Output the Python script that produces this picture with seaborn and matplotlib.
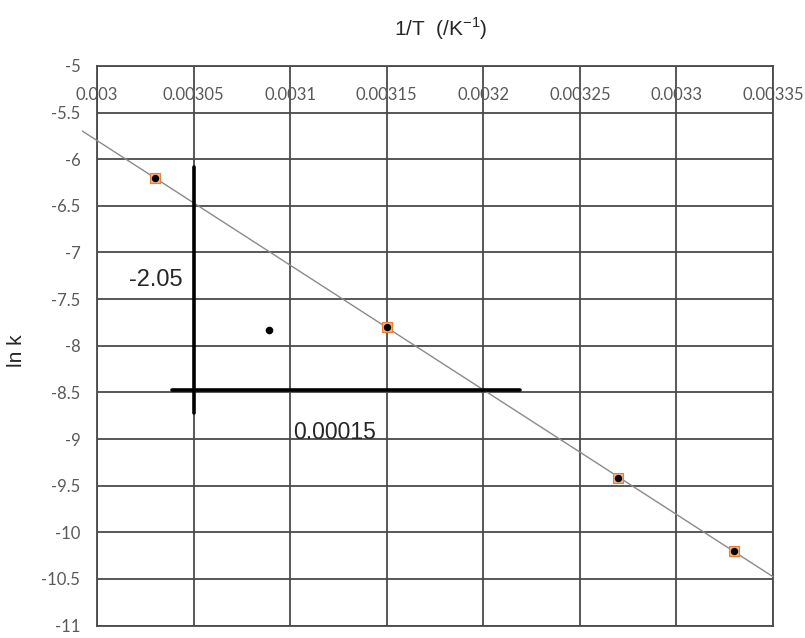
import numpy as np
import pandas as pd
import matplotlib
matplotlib.use("Agg")
import matplotlib.pyplot as plt
import seaborn as sns

# Data
inv_T = [0.00303, 0.00315, 0.00327, 0.00333]
ln_k = [-6.20, -7.80, -9.42, -10.20]
outlier_x = [0.003089]
outlier_y = [-7.83]

# trendline span (forecast a little past the first point)
trend_x = [0.0029924, 0.00335]

# slope triangle drawn on the chart
rise_x = [0.00305, 0.00305]
rise_y = [-6.08, -8.72]
run_x = [0.003039, 0.003219]
run_y = [-8.47, -8.47]
rise_label = "-2.05"
run_label = "0.00015"

x_ticks = [0.003, 0.00305, 0.0031, 0.00315, 0.0032, 0.00325, 0.0033, 0.00335]
x_tick_labels = ["0.003", "0.00305", "0.0031", "0.00315", "0.0032", "0.00325", "0.0033", "0.00335"]
y_ticks = [-5, -5.5, -6, -6.5, -7, -7.5, -8, -8.5, -9, -9.5, -10, -10.5, -11]
y_tick_labels = ["-5", "-5.5", "-6", "-6.5", "-7", "-7.5", "-8", "-8.5", "-9", "-9.5", "-10", "-10.5", "-11"]

sns.set_style("white")
plt.rcParams['font.family'] = ['Liberation Sans', 'DejaVu Sans']

df = pd.DataFrame({"inv_T": inv_T, "ln_k": ln_k})

fig = plt.figure(figsize=(8.05, 6.38), dpi=100)
ax = fig.add_axes([0.1205, 0.0195, 0.8397, 0.8771])

ax.set_xlim(0.003, 0.00335)
ax.set_ylim(-11, -5)

# grid
ax.set_xticks(x_ticks)
ax.set_yticks(y_ticks)
ax.grid(True, color="#4a4a4a", linewidth=1.3)
for s in ax.spines.values():
    s.set_color("#4a4a4a")
    s.set_linewidth(1.3)

# linear trendline (Excel style)
m, b = np.polyfit(inv_T, ln_k, 1)
tx = np.array(trend_x)
ax.plot(tx, m * tx + b, color="#8a8a8a", linewidth=1.0, clip_on=False, zorder=3)

# data points: orange square with black dot
sns.scatterplot(data=df, x="inv_T", y="ln_k", ax=ax, marker="s", s=60,
                color="#F4B183", edgecolor="#ED7D31", linewidth=0.8, zorder=4)
sns.scatterplot(data=df, x="inv_T", y="ln_k", ax=ax, marker="o", s=28,
                color="black", edgecolor="black", linewidth=0, zorder=5)
sns.scatterplot(x=outlier_x, y=outlier_y, ax=ax, marker="o", s=30,
                color="black", edgecolor="black", linewidth=0, zorder=5)

# slope triangle
ax.plot(rise_x, rise_y, color="black", linewidth=2.6, zorder=6)
ax.plot(run_x, run_y, color="black", linewidth=2.6, zorder=6)
ax.text(0.0030445, -7.29, rise_label, fontsize=17, color="#262626",
        ha="right", va="center", zorder=7)
ax.text(0.0031015, -8.93, run_label, fontsize=16.5, color="#262626",
        ha="left", va="center", zorder=7)

# tick labels
ax.xaxis.tick_top()
ax.set_xticklabels(x_tick_labels, family=["Lato", "DejaVu Sans"])
ax.set_yticklabels(y_tick_labels, family=["Lato", "DejaVu Sans"])
ax.tick_params(axis="x", length=0, labelsize=12, labelcolor="#595959")
ax.tick_params(axis="y", length=0, pad=12, labelsize=12, labelcolor="#595959")
for lbl in ax.get_xticklabels():
    lbl.set_verticalalignment("top")
ax.tick_params(axis="x", pad=-15)

ax.set_xlabel("")
ax.set_ylabel("")
fig.text(0.547, 0.955, "1/T  (/K$^{\\mathregular{-1}}$)", fontsize=15, color="#262626",
         ha="center", va="center")
fig.text(0.020, 0.45, "ln k", fontsize=15, color="#262626",
         ha="center", va="center", rotation=90)

fig.savefig("out.png", dpi=100)
